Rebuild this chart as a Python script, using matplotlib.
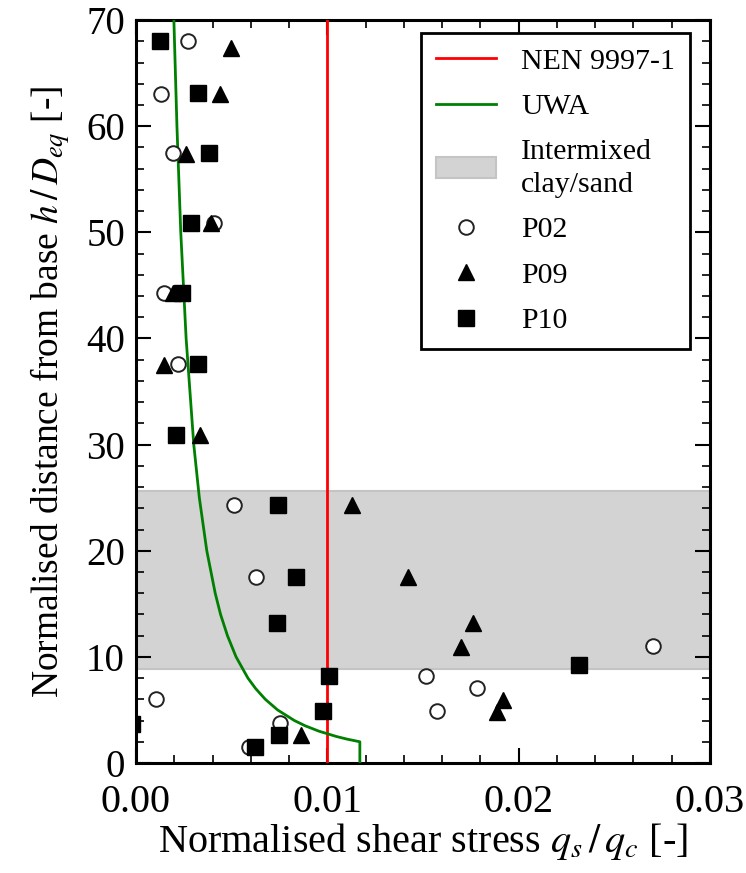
import matplotlib
matplotlib.use('Agg')
import matplotlib.pyplot as plt

plt.rcParams['font.family'] = ['Liberation Serif', 'DejaVu Serif']
plt.rcParams['mathtext.fontset'] = 'stix'

# intermixed clay/sand layer (h/D_eq)
BAND = (8.9, 25.6)
NEN_VALUE = 0.01

# UWA design line
uwa_h = [0, 2, 2.25, 2.5, 3, 3.5, 4, 5, 6, 7, 8, 10, 12, 14, 16, 20, 25, 30, 40, 50, 60, 70]
uwa_q = [0.0117, 0.0117, 0.01103, 0.01047, 0.00956, 0.00885, 0.00828, 0.0074, 0.00676,
         0.00626, 0.00585, 0.00523, 0.00478, 0.00442, 0.00414, 0.0037, 0.00331, 0.00302,
         0.00262, 0.00234, 0.00214, 0.00198]

# pile measurements: (q_s/q_c, h/D_eq)
p02_q = [0.0027, 0.0013, 0.00195, 0.0041, 0.00148, 0.00221, 0.00514, 0.00627,
         0.00105, 0.00753, 0.0059, 0.02704, 0.01514, 0.01784, 0.01572]
p02_h = [68.0, 63.0, 57.5, 50.9, 44.25, 37.55, 24.3, 17.55,
         6.0, 3.8, 1.54, 11.0, 8.2, 7.04, 4.9]

p09_q = [0.00497, 0.0044, 0.0026, 0.0039, 0.00195, 0.00148, 0.00335, 0.0113,
         0.01424, 0.01763, 0.01699, 0.01917, 0.01889, 0.0086]
p09_h = [67.4, 63.0, 57.4, 50.9, 44.25, 37.5, 30.9, 24.3,
         17.55, 13.16, 10.96, 5.94, 4.77, 2.64]

p10_q = [0.00125, 0.00326, 0.00383, 0.00286, 0.00242, 0.00326, 0.00209, 0.0074,
         0.00835, 0.00735, 0.0101, 0.0098, 0.0075, 0.0062, 0.02317, -0.0002]
p10_h = [68.0, 63.1, 57.5, 50.9, 44.25, 37.55, 30.9, 24.3,
         17.55, 13.16, 8.23, 4.9, 2.64, 1.54, 9.23, 3.7]

fig = plt.figure(figsize=(7.46, 8.73), dpi=100)
ax = fig.add_axes([0.1823, 0.126, 0.7694, 0.851])

ax.plot([NEN_VALUE, NEN_VALUE], [0, 70], color='red', lw=2, label='NEN 9997-1', zorder=3)
ax.plot(uwa_q, uwa_h, color='green', lw=2, label='UWA', zorder=3)
ax.axhspan(BAND[0], BAND[1], facecolor='#d3d3d3', edgecolor='#c4c4c4', lw=1.5,
           label='Intermixed\nclay/sand', zorder=1)

ax.plot(p02_q, p02_h, 'o', ms=10.5, mfc='white', mec='#222222', mew=1.4,
        label='P02', zorder=4)
ax.plot(p09_q, p09_h, '^', ms=11, color='black', label='P09', zorder=5)
ax.plot(p10_q, p10_h, 's', ms=11, color='black', label='P10', zorder=6)

ax.set_xlim(0, 0.03)
ax.set_ylim(0, 70)
ax.set_xticks([0, 0.01, 0.02, 0.03])
ax.set_xticklabels(['0.00', '0.01', '0.02', '0.03'])
ax.set_yticks(range(0, 71, 10))
ax.set_xticks([i * 0.002 for i in range(16)], minor=True)
ax.set_yticks(range(0, 71, 2), minor=True)
ax.tick_params(which='both', direction='in', top=True, right=True)
ax.tick_params(axis='x', pad=15, labelsize=29)
ax.tick_params(axis='y', pad=8, labelsize=28)
ax.tick_params(which='major', length=11, width=1.5)
ax.tick_params(which='minor', length=6, width=1.2)
for s in ax.spines.values():
    s.set_linewidth(2.2)

ax.set_xlabel(r'Normalised shear stress $q_s\,/\,q_c$ [-]', fontsize=29, labelpad=0)
ax.set_ylabel(r'Normalised distance from base $h\,/\,D_{eq}$ [-]', fontsize=27, labelpad=10)

leg = ax.legend(loc='upper right', bbox_to_anchor=(0.965, 0.9825), borderaxespad=0,
                fontsize=21.5, fancybox=False, framealpha=1, edgecolor='black',
                handlelength=2.0, labelspacing=0.62, handletextpad=0.85,
                borderpad=0.5)
leg.get_frame().set_linewidth(2.0)
for t in leg.get_texts():
    t.set_linespacing(1.35)

fig.savefig('out.png', dpi=100)
